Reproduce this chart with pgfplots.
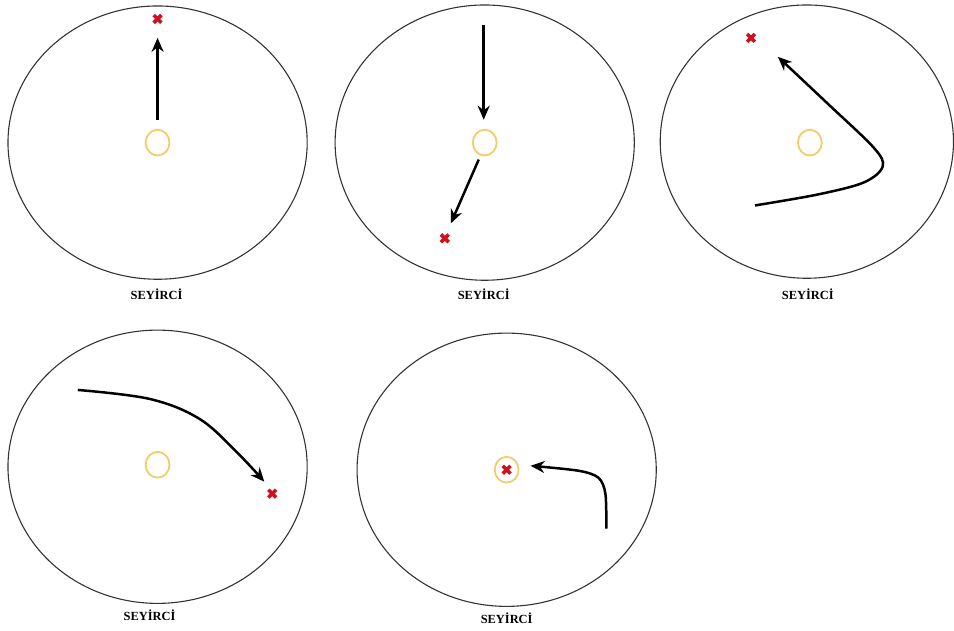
\documentclass[border=0pt]{standalone}
\usepackage{pgfplots}
\pgfplotsset{compat=1.18}
\usepackage{fontspec}
\setmainfont{Liberation Serif}
\usetikzlibrary{arrows.meta}
\definecolor{ring}{HTML}{F3CB6A}
\definecolor{xred}{HTML}{D0101A}
\begin{document}
\begin{tikzpicture}
\begin{axis}[
  scale only axis, width=954bp, height=632bp,
  xmin=0, xmax=954, ymin=0, ymax=632,
  hide axis, clip=false,
]
\path (axis cs:0,0) rectangle (axis cs:954,632);
% outer ellipses
\draw[black!80, line width=1.1bp] (axis cs:158,489) ellipse [x radius=150, y radius=137];
\draw[black!80, line width=1.1bp] (axis cs:486,489) ellipse [x radius=150, y radius=138];
\draw[black!80, line width=1.1bp] (axis cs:809,490) ellipse [x radius=147, y radius=137];
\draw[black!80, line width=1.1bp] (axis cs:158,164) ellipse [x radius=150, y radius=137];
\draw[black!80, line width=1.1bp] (axis cs:508,161) ellipse [x radius=150, y radius=137];
% yellow centre rings
\addplot[only marks, mark=o, mark size=12, mark options={draw=ring, line width=1.8bp, yscale=1.08}] coordinates {(158,489) (486,489) (812,489) (158,166) (508,161)};
% arrows
\addplot[black, line width=2.5bp, -{Stealth[length=14bp,width=12bp]}] coordinates {(158,512) (158,594)};
\addplot[black, line width=2.5bp, -{Stealth[length=14bp,width=12bp]}] coordinates {(485,607) (485,512)};
\addplot[black, line width=2.5bp, -{Stealth[length=14bp,width=12bp]}] coordinates {(480,472) (452,408)};
\addplot[black, line width=2.5bp, smooth, tension=0.55, -{Stealth[length=14bp,width=12bp]}] coordinates {(757,426) (820,437) (866,449) (885,465) (876,484) (830,528) (780,575)};
\addplot[black, line width=2.5bp, smooth, tension=0.6, -{Stealth[length=14bp,width=12bp]}] coordinates {(78,241) (150,232) (200,212) (238,178) (265,149)};
\addplot[black, line width=2.5bp, smooth, tension=0.5, -{Stealth[length=14bp,width=12bp]}] coordinates {(608,102) (607,137) (600,153) (580,160) (532,165)};
% red crosses
\addplot[only marks, mark=x, mark size=5.5, mark options={draw=xred, line width=3.6bp}] coordinates {(158,613) (446,393) (753,594) (273,137) (508,161)};
% labels
\node[font=\fontsize{12.5}{14}\selectfont\bfseries] at (axis cs:157,337) {SEYİRCİ};
\node[font=\fontsize{12.5}{14}\selectfont\bfseries] at (axis cs:485,337) {SEYİRCİ};
\node[font=\fontsize{12.5}{14}\selectfont\bfseries] at (axis cs:810,337) {SEYİRCİ};
\node[font=\fontsize{12.5}{14}\selectfont\bfseries] at (axis cs:150,15) {SEYİRCİ};
\node[font=\fontsize{12.5}{14}\selectfont\bfseries] at (axis cs:508,12) {SEYİRCİ};
\end{axis}
\end{tikzpicture}
\end{document}
